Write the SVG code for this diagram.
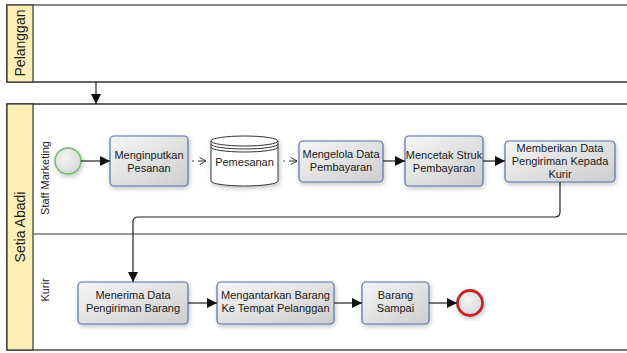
<svg xmlns="http://www.w3.org/2000/svg" width="627" height="353" viewBox="0 0 627 353">
<style>
text{font-family:"Liberation Sans",Arial,sans-serif;fill:#1a1a1a}
.t{font-size:11px;text-anchor:middle}
.pl{font-size:14px;text-anchor:middle}
.ll{font-size:11px;text-anchor:middle}
.task{fill:url(#tg);stroke:#5a70a6;stroke-width:1.2;filter:url(#sh)}
.hdr{fill:#fdf0b6;stroke:#333;stroke-width:1.2}
.pool{fill:#fff;stroke:#333;stroke-width:1.5}
.flow{fill:none;stroke:#222;stroke-width:1.2}
.assoc{fill:none;stroke:#333;stroke-width:1}
</style>
<defs>
<linearGradient id="tg" x1="0" y1="0" x2="1" y2="1">
<stop offset="0" stop-color="#f6f6f6"/>
<stop offset="1" stop-color="#cdcdcd"/>
</linearGradient>
<radialGradient id="cg" cx="0.4" cy="0.4" r="0.7">
<stop offset="0" stop-color="#f4f4f4"/>
<stop offset="1" stop-color="#d6d6d6"/>
</radialGradient>
<filter id="sh" x="-20%" y="-20%" width="140%" height="140%">
<feGaussianBlur in="SourceAlpha" stdDeviation="2.5"/>
<feOffset dx="1" dy="1.5"/>
<feComponentTransfer><feFuncA type="linear" slope="0.25"/></feComponentTransfer>
<feMerge><feMergeNode/><feMergeNode in="SourceGraphic"/></feMerge>
</filter>
<marker id="ah" viewBox="0 0 10 10" refX="10" refY="5" markerWidth="10" markerHeight="10" markerUnits="userSpaceOnUse" orient="auto">
<path d="M0,0 L10,5 L0,10 z" fill="#111"/>
</marker>
<marker id="oh" viewBox="0 0 10 10" refX="9" refY="5" markerWidth="8" markerHeight="10" markerUnits="userSpaceOnUse" orient="auto">
<path d="M1,0.5 L9,5 L1,9.5" fill="none" stroke="#333" stroke-width="1.2"/>
</marker>
</defs>

<g id="pool-pelanggan">
<rect class="pool" x="7" y="5" width="625" height="77"/>
<line x1="7" y1="5" x2="627" y2="5" stroke="#888" stroke-width="2"/>
<rect class="hdr" x="7" y="5" width="26" height="77"/>
<text class="pl" transform="translate(25,43) rotate(-90)">Pelanggan</text>
</g>

<g id="pool-setia-abadi">
<rect class="pool" x="7" y="104" width="625" height="246"/>
<line x1="7" y1="350" x2="627" y2="350" stroke="#777" stroke-width="2"/>
<rect class="hdr" x="7" y="104" width="26" height="246"/>
<line x1="33" y1="234" x2="627" y2="234" stroke="#777" stroke-width="1.5"/>
<text class="pl" transform="translate(25,227) rotate(-90)">Setia Abadi</text>
</g>

<g id="lane-staff-marketing">
<text class="ll" transform="translate(49,178) rotate(-90)">Staff Marketing</text>
</g>
<g id="lane-kurir">
<text class="ll" transform="translate(49,290) rotate(-90)">Kurir</text>
</g>

<g id="start">
<circle cx="68" cy="161" r="13" fill="url(#cg)" stroke="#6cbf6c" stroke-width="1.5" filter="url(#sh)"/>
</g>

<g id="task-menginputkan">
<rect class="task" x="110" y="136" width="78" height="50" rx="4"/>
<text class="t" x="149" y="159">Menginputkan</text>
<text class="t" x="149" y="172">Pesanan</text>
</g>

<g id="store-pemesanan">
<path d="M211,141 L211,181 A33.5,5 0 0 0 278,181 L278,141" fill="#fff" stroke="#333" stroke-width="1" filter="url(#sh)"/>
<ellipse cx="244.5" cy="141" rx="33.5" ry="5" fill="#fff" stroke="#333" stroke-width="1"/>
<path d="M211,144 A33.5,5 0 0 0 278,144 M211,147 A33.5,5 0 0 0 278,147" fill="none" stroke="#333" stroke-width="1"/>
<text class="t" x="244.5" y="166">Pemesanan</text>
</g>

<g id="task-mengelola">
<rect class="task" x="299" y="141" width="84" height="41" rx="4"/>
<text class="t" x="341" y="158">Mengelola Data</text>
<text class="t" x="341" y="171">Pembayaran</text>
</g>

<g id="task-mencetak">
<rect class="task" x="405" y="136" width="78" height="50" rx="4"/>
<text class="t" x="444" y="159">Mencetak Struk</text>
<text class="t" x="444" y="172">Pembayaran</text>
</g>

<g id="task-memberikan">
<rect class="task" x="505" y="141" width="110" height="41" rx="4"/>
<text class="t" x="560" y="152">Memberikan Data</text>
<text class="t" x="560" y="165">Pengiriman Kepada</text>
<text class="t" x="560" y="178">Kurir</text>
</g>

<g id="task-menerima">
<rect class="task" x="78" y="282" width="110" height="42" rx="4"/>
<text class="t" x="133" y="299">Menerima Data</text>
<text class="t" x="133" y="312">Pengiriman Barang</text>
</g>

<g id="task-mengantarkan">
<rect class="task" x="217" y="282" width="117" height="42" rx="4"/>
<text class="t" x="275.5" y="299">Mengantarkan Barang</text>
<text class="t" x="275.5" y="312">Ke Tempat Pelanggan</text>
</g>

<g id="task-barang-sampai">
<rect class="task" x="362" y="282" width="67" height="42" rx="4"/>
<text class="t" x="395.5" y="299">Barang</text>
<text class="t" x="395.5" y="312">Sampai</text>
</g>

<g id="end">
<circle cx="470" cy="303" r="12.5" fill="url(#cg)" stroke="#c0282c" stroke-width="2.8" filter="url(#sh)"/>
</g>

<g id="connectors">
<line class="flow" x1="96" y1="82" x2="96" y2="104" marker-end="url(#ah)"/>
<line class="flow" x1="81" y1="161" x2="110" y2="161" marker-end="url(#ah)"/>
<circle cx="193" cy="161" r="0.8" fill="#333"/>
<line class="assoc" x1="198" y1="161" x2="206" y2="161" marker-end="url(#oh)"/>
<circle cx="284" cy="161" r="0.8" fill="#333"/>
<line class="assoc" x1="289" y1="161" x2="297" y2="161" marker-end="url(#oh)"/>
<line class="flow" x1="383" y1="161" x2="405" y2="161" marker-end="url(#ah)"/>
<line class="flow" x1="483" y1="161" x2="505" y2="161" marker-end="url(#ah)"/>
<path class="flow" d="M560,182 L560,212 Q560,217 555,217 L138,217 Q133,217 133,222 L133,282" marker-end="url(#ah)"/>
<line class="flow" x1="188" y1="303" x2="217" y2="303" marker-end="url(#ah)"/>
<line class="flow" x1="334" y1="303" x2="362" y2="303" marker-end="url(#ah)"/>
<line class="flow" x1="429" y1="303" x2="457" y2="303" marker-end="url(#ah)"/>
</g>
</svg>
